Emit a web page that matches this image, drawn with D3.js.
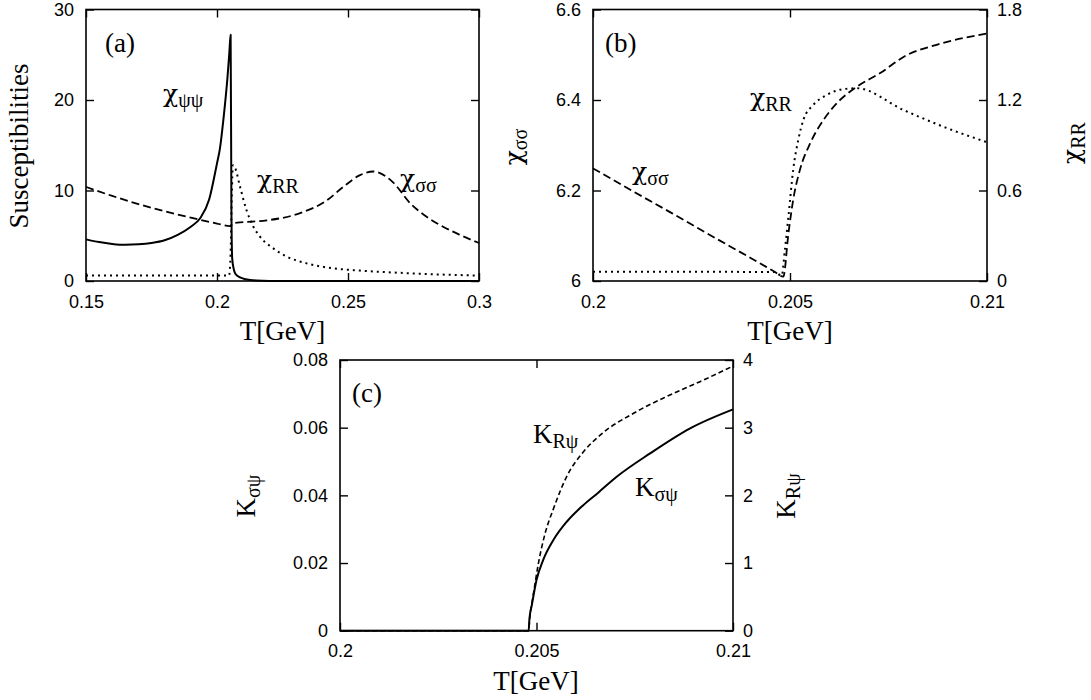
<!DOCTYPE html>
<html><head><meta charset="utf-8">
<script src="https://cdn.jsdelivr.net/npm/d3@7"></script>
<style>
body{margin:0;background:#fff}
svg{display:block}
.tick text{font-family:"Liberation Sans",Arial,sans-serif;font-size:18px;fill:#000}
.t{font-family:"Liberation Serif","Times New Roman",serif;font-size:27px;fill:#000}
.chi{font-family:"DejaVu Serif","Liberation Serif",serif;font-size:25px}
</style></head><body>
<svg id="c" width="1091" height="700"></svg>
<script>
// ---------- DATA ----------
// Panel (a): Susceptibilities vs T[GeV]
const aXTicks = [0.15, 0.2, 0.25, 0.3];
const aYTicks = [0, 10, 20, 30];
const chiPsiPsiA = [[0.15,4.6],[0.155,4.3],[0.16,4.1],[0.165,4.0],[0.17,4.05],[0.175,4.2],[0.18,4.5],[0.185,5.1],[0.19,6.0],[0.1935,6.9],[0.197,9.0],[0.2,13.0],[0.2011,14.6],[0.2025,18.0],[0.204,22.5],[0.2047,25.2],[0.2052,27.2],[0.2055,8.0],[0.2058,2.5],[0.2064,1.3],[0.207,0.8],[0.2088,0.4],[0.211,0.2],[0.215,0.05],[0.22,0.0],[0.26,0.0],[0.3,0.0]];
const chiSigSigA = [[0.15,10.4],[0.16,9.4],[0.17,8.5],[0.18,7.7],[0.19,7.0],[0.2,6.35],[0.205,6.06],[0.2062,6.4],[0.21,6.5],[0.219,6.7],[0.2317,7.5],[0.2419,8.9],[0.2482,10.4],[0.2546,11.7],[0.2597,12.1],[0.2672,10.9],[0.2737,8.6],[0.28,7.1],[0.2863,6.0],[0.2927,5.1],[0.3,4.2]];
const chiRRA = [[0.15,0.62],[0.2046,0.62],[0.2052,3.0],[0.2056,9.0],[0.2061,12.8],[0.2069,12.5],[0.2088,10.4],[0.2113,7.8],[0.2139,6.0],[0.2164,4.9],[0.2215,3.6],[0.2266,2.7],[0.2342,1.95],[0.2444,1.4],[0.2546,1.15],[0.27,0.9],[0.285,0.72],[0.3,0.6]];

// Panel (b): chi_sigma-sigma (left) and chi_RR (right)
const bXTicks = [0.2, 0.205, 0.21];
const bYLTicks = [6, 6.2, 6.4, 6.6];
const bYRTicks = [0, 0.6, 1.2, 1.8];
const chiSigSigB = [[0.2,6.249],[0.201,6.199],[0.202,6.150],[0.203,6.100],[0.204,6.051],[0.2046,6.021],[0.20483,6.0095],[0.20496,6.105],[0.20508,6.179],[0.20525,6.245],[0.20551,6.304],[0.20585,6.356],[0.20619,6.393],[0.20669,6.429],[0.20728,6.459],[0.20796,6.499],[0.20872,6.522],[0.21,6.547]];
const chiRRB = [[0.2,0.062],[0.202,0.061],[0.2046,0.06],[0.20479,0.035],[0.20487,0.206],[0.20496,0.426],[0.20508,0.736],[0.20521,0.935],[0.20534,1.068],[0.20559,1.167],[0.20593,1.233],[0.20635,1.272],[0.20669,1.278],[0.20788,1.134],[0.20889,1.023],[0.21,0.92]];

// Panel (c): K_sigma-psi (left) and K_R-psi (right)
const cXTicks = [0.2, 0.205, 0.21];
const cYLTicks = [0, 0.02, 0.04, 0.06, 0.08];
const cYRTicks = [0, 1, 2, 3, 4];
const kSigPsi = [[0.2,0],[0.2048,0],[0.20482,0.0035],[0.20488,0.0075],[0.205,0.015],[0.20517,0.0209],[0.20543,0.0268],[0.20577,0.0322],[0.20619,0.0371],[0.20657,0.0408],[0.20704,0.0455],[0.20789,0.0524],[0.20891,0.0598],[0.21,0.0654]];
const kRPsi = [[0.2,0],[0.2048,0],[0.20483,0.2],[0.20491,0.5],[0.20505,1.0],[0.20522,1.44],[0.20543,1.8],[0.20577,2.28],[0.20619,2.64],[0.20662,2.89],[0.20746,3.21],[0.20831,3.46],[0.20916,3.68],[0.21,3.91]];

// ---------- DRAW ----------
const svg = d3.select('#c');
svg.append('rect').attr('width',1091).attr('height',700).attr('fill','#fff');

function styleAxis(sel){
  sel.select('.domain').remove();
  sel.selectAll('.tick line').attr('stroke','#000').attr('stroke-width',1.4);
}

function panel(cfg){
  const g = svg.append('g');
  const x = d3.scaleLinear().domain(cfg.xDom).range([cfg.l, cfg.r]);
  const yL = d3.scaleLinear().domain(cfg.yLDom).range([cfg.b, cfg.t]);
  const yR = cfg.yRDom ? d3.scaleLinear().domain(cfg.yRDom).range([cfg.b, cfg.t]) : null;
  const fmt = d => String(d);

  g.append('g').attr('transform',`translate(0,${cfg.b})`)
    .call(d3.axisBottom(x).tickValues(cfg.xTicks).tickFormat(fmt).tickSizeInner(-8).tickSizeOuter(0).tickPadding(14))
    .call(styleAxis);
  g.append('g').attr('transform',`translate(0,${cfg.t})`)
    .call(d3.axisTop(x).tickValues(cfg.xTicks).tickFormat('').tickSizeInner(-8).tickSizeOuter(0))
    .call(styleAxis);
  g.append('g').attr('transform',`translate(${cfg.l},0)`)
    .call(d3.axisLeft(yL).tickValues(cfg.yLTicks).tickFormat(fmt).tickSizeInner(-8).tickSizeOuter(0).tickPadding(12))
    .call(styleAxis);
  if (yR){
    g.append('g').attr('transform',`translate(${cfg.r},0)`)
      .call(d3.axisRight(yR).tickValues(cfg.yRTicks).tickFormat(fmt).tickSizeInner(-8).tickSizeOuter(0).tickPadding(10))
      .call(styleAxis);
  } else {
    g.append('g').attr('transform',`translate(${cfg.r},0)`)
      .call(d3.axisRight(yL).tickValues(cfg.yLTicks).tickFormat('').tickSizeInner(-8).tickSizeOuter(0))
      .call(styleAxis);
  }
  g.selectAll('.tick text').attr('fill','#000');

  cfg.series.forEach(s => {
    const yy = s.axis === 'R' ? yR : yL;
    const line = d3.line().x(d => x(d[0])).y(d => yy(d[1])).curve(d3.curveMonotoneX);
    g.append('path').datum(s.data).attr('d', line)
      .attr('fill','none').attr('stroke','#000')
      .attr('stroke-width', s.w || 2)
      .attr('stroke-dasharray', s.dash || null)
      .attr('stroke-linejoin','round');
  });

  g.append('rect').attr('x',cfg.l).attr('y',cfg.t).attr('width',cfg.r-cfg.l).attr('height',cfg.b-cfg.t)
    .attr('fill','none').attr('stroke','#000').attr('stroke-width',1.6);
  return g;
}

function label(g, x, y, main, sub, rot, chi){
  const t = g.append('text').attr('class','t')
    .attr('transform', rot ? `translate(${x},${y}) rotate(-90)` : `translate(${x},${y})`)
    .attr('text-anchor', rot ? 'middle' : 'start');
  const m = t.append('tspan').text(main);
  if (chi) m.attr('class','chi');
  if (sub) t.append('tspan').attr('font-size','20px').attr('dy', 5).text(sub);
  return t;
}

// Panel (a)
const ga = panel({l:86, r:479, t:9.5, b:281, xDom:[0.15,0.3], yLDom:[0,30],
  xTicks:aXTicks, yLTicks:aYTicks,
  series:[
    {data:chiSigSigA, dash:'8,4', w:1.8},
    {data:chiRRA, dash:'2,4', w:2},
    {data:chiPsiPsiA, w:2}
  ]});
label(ga, 105, 52, '(a)');
label(ga, 163, 102, 'χ', 'ψψ', false, true);
label(ga, 257, 188, 'χ', 'RR', false, true);
label(ga, 400, 187, 'χ', 'σσ', false, true);
label(ga, 28, 146, 'Susceptibilities', null, true);
ga.append('text').attr('class','t').attr('x',282.5).attr('y',340).attr('text-anchor','middle').text('T[GeV]');

// Panel (b)
const gb = panel({l:593, r:987, t:9.5, b:281, xDom:[0.2,0.21], yLDom:[6,6.6], yRDom:[0,1.8],
  xTicks:bXTicks, yLTicks:bYLTicks, yRTicks:bYRTicks,
  series:[
    {data:chiSigSigB, dash:'8,4', w:1.8},
    {data:chiRRB, axis:'R', dash:'2,4', w:2}
  ]});
label(gb, 605, 52, '(b)');
label(gb, 632, 180, 'χ', 'σσ', false, true);
label(gb, 750, 106, 'χ', 'RR', false, true);
label(gb, 522, 147, 'χ', 'σσ', true, true);
label(gb, 1080, 143, 'χ', 'RR', true, true);
gb.append('text').attr('class','t').attr('x',790).attr('y',340).attr('text-anchor','middle').text('T[GeV]');

// Panel (c)
const gc = panel({l:340, r:733, t:360, b:630.7, xDom:[0.2,0.21], yLDom:[0,0.08], yRDom:[0,4],
  xTicks:cXTicks, yLTicks:cYLTicks, yRTicks:cYRTicks,
  series:[
    {data:kRPsi, axis:'R', dash:'5,3', w:1.6},
    {data:kSigPsi, w:2}
  ]});
label(gc, 352, 402, '(c)');
label(gc, 533, 443, 'K', 'Rψ');
label(gc, 635, 496, 'K', 'σψ');
label(gc, 255, 496, 'K', 'σψ', true);
label(gc, 795, 496, 'K', 'Rψ', true);
gc.append('text').attr('class','t').attr('x',536).attr('y',690).attr('text-anchor','middle').text('T[GeV]');
</script>
</body></html>
